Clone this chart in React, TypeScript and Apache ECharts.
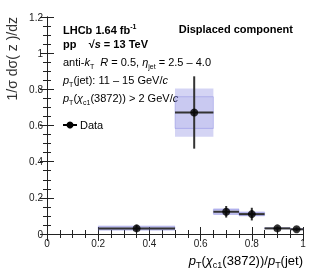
import React, { useEffect, useRef } from "react";
import * as echarts from "echarts";

const binLow = [0.2, 0.5, 0.65, 0.75, 0.85, 0.95];
const binHigh = [0.5, 0.65, 0.75, 0.85, 0.95, 1.0];
const xCenter = [0.35, 0.575, 0.7, 0.8, 0.9, 0.975];
const yValue = [0.031, 0.672, 0.123, 0.11, 0.031, 0.026];
const statErr = [0.018, 0.2, 0.032, 0.035, 0.01, 0.01];
const systOuterLow = [0.018, 0.538, 0.105, 0.098, 0.027, 0.022];
const systOuterHigh = [0.047, 0.805, 0.142, 0.124, 0.036, 0.031];
const systInnerLow = [0.024, 0.584, 0.11, 0.102, 0.029, 0.024];
const systInnerHigh = [0.04, 0.759, 0.136, 0.12, 0.034, 0.029];
const xTicks = [0, 0.2, 0.4, 0.6, 0.8, 1];
const yTicks = [0, 0.2, 0.4, 0.6, 0.8, 1, 1.2];

const FONT = "Liberation Sans";
const INK = "#222";

const rich = {
  n: { fontSize: 11, lineHeight: 15, fontFamily: FONT, color: INK },
  i: { fontSize: 11, lineHeight: 15, fontFamily: FONT, color: INK, fontStyle: "italic" },
  b: { fontSize: 11, lineHeight: 15, fontFamily: FONT, color: INK, fontWeight: "bold" },
  bi: { fontSize: 11, lineHeight: 15, fontFamily: FONT, color: INK, fontWeight: "bold", fontStyle: "italic" },
  sub: { fontSize: 7, fontFamily: FONT, color: INK, verticalAlign: "bottom" },
  subi: { fontSize: 7, fontFamily: FONT, color: INK, verticalAlign: "bottom", fontStyle: "italic" },
  sup: { fontSize: 7, fontFamily: FONT, color: INK, verticalAlign: "top", fontWeight: "bold" },
  N: { fontSize: 13, lineHeight: 18, fontFamily: FONT, color: INK },
  I: { fontSize: 13, lineHeight: 18, fontFamily: FONT, color: INK, fontStyle: "italic" },
  S: { fontSize: 9, fontFamily: FONT, color: INK, verticalAlign: "bottom" },
  SI: { fontSize: 9, fontFamily: FONT, color: INK, verticalAlign: "bottom", fontStyle: "italic" },
};

function txt(x: number, y: number, text: string, align = "left", extra: any = {}) {
  return {
    type: "text",
    x,
    y,
    style: { text, rich, align, verticalAlign: "middle", ...extra },
  };
}

export default function App() {
  const ref = useRef<HTMLDivElement>(null);
  useEffect(() => {
    if (!ref.current) return;
    const chart = echarts.init(ref.current, null, { renderer: "svg" });

    const outerData = binLow.map((l, k) => [l, binHigh[k], systOuterLow[k], systOuterHigh[k]]);
    const innerData = binLow.map((l, k) => [l, binHigh[k], systInnerLow[k], systInnerHigh[k]]);
    const errData = xCenter.map((x, k) => [x, yValue[k], statErr[k], binLow[k], binHigh[k]]);
    const pointData = xCenter.map((x, k) => [x, yValue[k]]);

    const boxRender = (fill: string, stroke: string) => (params: any, api: any) => {
      const p0 = api.coord([api.value(0), api.value(3)]);
      const p1 = api.coord([api.value(1), api.value(2)]);
      return {
        type: "rect",
        shape: { x: p0[0], y: p0[1], width: p1[0] - p0[0], height: p1[1] - p0[1] },
        style: { fill, stroke, lineWidth: 1 },
      };
    };

    const axisCommon = {
      axisLine: { show: true, lineStyle: { color: INK, width: 1 } },
      axisTick: { show: true, inside: true, length: 7, lineStyle: { color: INK } },
      minorTick: { show: true, splitNumber: 4, length: 4, lineStyle: { color: INK } },
      splitLine: { show: false },
    };

    chart.setOption({
      animation: false,
      grid: { left: 47, right: 12, top: 17, bottom: 42 },
      xAxis: [
        {
          type: "value",
          min: xTicks[0],
          max: xTicks[xTicks.length - 1],
          interval: 0.2,
          ...axisCommon,
          axisLabel: { fontSize: 10, fontFamily: FONT, color: INK, margin: 4 },
        },
        {
          type: "value",
          position: "top",
          min: 0,
          max: 1,
          interval: 0.2,
          ...axisCommon,
          axisLabel: { show: false },
        },
      ],
      yAxis: [
        {
          type: "value",
          min: yTicks[0],
          max: yTicks[yTicks.length - 1],
          interval: 0.2,
          ...axisCommon,
          axisLabel: { fontSize: 10, fontFamily: FONT, color: INK, margin: 4 },
        },
        {
          type: "value",
          position: "right",
          min: 0,
          max: 1.2,
          interval: 0.2,
          ...axisCommon,
          axisLabel: { show: false },
        },
      ],
      series: [
        {
          type: "custom",
          data: outerData,
          renderItem: boxRender("rgba(100,100,215,0.28)", "none"),
          z: 1,
        },
        {
          type: "custom",
          data: innerData,
          renderItem: boxRender("rgba(100,100,215,0.1)", "rgba(100,100,215,0.3)"),
          z: 2,
        },
        {
          type: "custom",
          data: errData,
          z: 3,
          renderItem: (params: any, api: any) => {
            const c = api.coord([api.value(0), api.value(1)]);
            const top = api.coord([api.value(0), api.value(1) + api.value(2)]);
            const bot = api.coord([api.value(0), api.value(1) - api.value(2)]);
            const l = api.coord([api.value(3), api.value(1)]);
            const r = api.coord([api.value(4), api.value(1)]);
            const st = { stroke: "#333", lineWidth: 2 };
            return {
              type: "group",
              children: [
                { type: "line", shape: { x1: l[0], y1: c[1], x2: r[0], y2: c[1] }, style: st },
                { type: "line", shape: { x1: c[0], y1: top[1], x2: c[0], y2: bot[1] }, style: st },
              ],
            };
          },
        },
        {
          type: "scatter",
          data: pointData,
          symbol: "circle",
          symbolSize: 8,
          itemStyle: { color: "#000" },
          z: 4,
        },
      ],
      graphic: [
        txt(63, 30, "{b|LHCb 1.64 fb}{sup|-1}"),
        txt(63, 44, "{b|pp    √}{bi|s}{b| = 13 TeV}"),
        txt(293, 29, "{b|Displaced component}", "right"),
        txt(63, 62, "{n|anti-}{i|k}{sub|T}{n|  }{i|R}{n| = 0.5, }{i|η}{sub|jet}{n| = 2.5 – 4.0}"),
        txt(63, 80, "{i|p}{sub|T}{n|(jet): 11 – 15 GeV/}{i|c}"),
        txt(63, 98, "{i|p}{sub|T}{n|(}{i|χ}{sub|c1}{n|(3872)) > 2 GeV/}{i|c}"),
        { type: "line", shape: { x1: 63, y1: 125, x2: 77, y2: 125 }, style: { stroke: "#000", lineWidth: 2 } },
        { type: "circle", shape: { cx: 70, cy: 125, r: 3.5 }, style: { fill: "#000" } },
        txt(80, 125, "{n|Data}"),
        txt(303, 260, "{I|p}{S|T}{N|(}{I|χ}{S|c1}{N|(3872))/}{I|p}{S|T}{N|(jet)}", "right"),
        {
          type: "text",
          x: 12,
          y: 17,
          rotation: Math.PI / 2,
          style: {
            text: "1/σ dσ( z )/dz",
            align: "right",
            verticalAlign: "middle",
            fontSize: 14,
            fontFamily: FONT,
            fill: "#333",
          },
        },
      ],
    });
    return () => chart.dispose();
  }, []);
  return (
    <div
      ref={ref}
      style={{ position: "fixed", left: 0, top: 0, width: 315, height: 276 }}
    />
  );
}
